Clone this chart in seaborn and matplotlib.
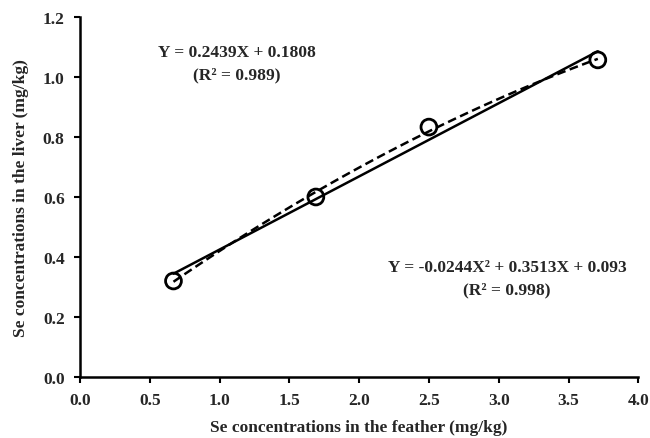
import numpy as np
import pandas as pd
import matplotlib.pyplot as plt
import seaborn as sns

# Se in feather vs liver
feather = [0.67, 1.69, 2.50, 3.71]
liver = [0.32, 0.60, 0.833, 1.057]

# fitted coefficients as printed on the chart
lin_coef = [0.2439, 0.1808]
quad_coef = [-0.0244, 0.3513, 0.093]

sns.set_style("ticks")
plt.rcParams["font.family"] = ["Liberation Serif", "DejaVu Serif"]
plt.rcParams["font.weight"] = "bold"

xs = np.linspace(min(feather), max(feather), 100)
fits = pd.DataFrame({
    "x": xs,
    "linear": np.polyval(lin_coef, xs),
    "quadratic": np.polyval(quad_coef, xs),
})

fig = plt.figure(figsize=(6.5, 4.39), dpi=100)
ax = fig.add_axes([0.123, 0.139, 0.859, 0.82])

sns.lineplot(data=fits, x="x", y="linear", color="black", lw=1.8, ax=ax)
sns.lineplot(data=fits, x="x", y="quadratic", color="black", lw=1.8,
             linestyle=(0, (3.5, 1.8)), ax=ax)
sns.scatterplot(x=feather, y=liver, s=130, facecolor="none",
                edgecolor="black", linewidth=2, ax=ax, zorder=5)

ax.set_xlim(0, 4)
ax.set_ylim(0, 1.2)
ax.set_xticks(np.arange(0, 4.01, 0.5))
ax.set_yticks(np.arange(0, 1.21, 0.2))
ax.xaxis.set_major_formatter(plt.FormatStrFormatter("%.1f"))
ax.yaxis.set_major_formatter(plt.FormatStrFormatter("%.1f"))
ax.tick_params(labelsize=12.5, width=1.5, length=4, pad=7, color="black")
for lab in ax.get_xticklabels() + ax.get_yticklabels():
    lab.set_fontweight("bold")
for sp in ["left", "bottom"]:
    ax.spines[sp].set_linewidth(1.8)
    ax.spines[sp].set_color("black")
sns.despine(ax=ax)

ax.set_xlabel("Se concentrations in the feather (mg/kg)", fontsize=12.5,
              fontweight="bold", labelpad=8)
ax.set_ylabel("Se concentrations in the liver (mg/kg)", fontsize=12.5,
              fontweight="bold", labelpad=10)

ax.text(1.125, 1.083, "Y = 0.2439X + 0.1808", ha="center", va="center",
        fontsize=12.5, fontweight="bold")
ax.text(1.125, 1.01, "(R² = 0.989)", ha="center", va="center",
        fontsize=12.5, fontweight="bold")
ax.text(3.06, 0.367, "Y = -0.0244X² + 0.3513X + 0.093", ha="center",
        va="center", fontsize=12.5, fontweight="bold")
ax.text(3.06, 0.293, "(R² = 0.998)", ha="center", va="center",
        fontsize=12.5, fontweight="bold")

fig.savefig("out.png", dpi=100)
